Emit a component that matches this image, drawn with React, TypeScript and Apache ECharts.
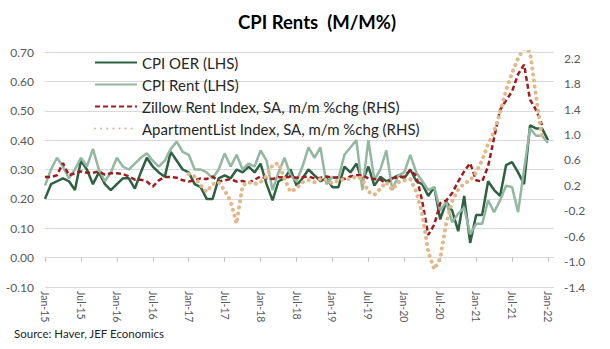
import React, { useEffect, useRef } from 'react';
import * as echarts from 'echarts';

// Month categories, Jan-15 .. Feb-22 (one slot past the last label, as in the reference axis)
const MONTHS = ['Jan', 'Feb', 'Mar', 'Apr', 'May', 'Jun', 'Jul', 'Aug', 'Sep', 'Oct', 'Nov', 'Dec'];
const YEARS = ['15', '16', '17', '18', '19', '20', '21'];
const categories: string[] = [];
YEARS.forEach((y) => MONTHS.forEach((m) => categories.push(`${m}-${y}`)));
categories.push('Jan-22', 'Feb-22');

// CPI OER m/m % (LHS)
const cpiOER = [
  0.20, 0.25, 0.26, 0.27, 0.26, 0.23, 0.33, 0.30, 0.25, 0.29, 0.25, 0.23,
  0.25, 0.27, 0.27, 0.235, 0.29, 0.34, 0.31, 0.29, 0.275, 0.36, 0.33, 0.30,
  0.29, 0.25, 0.24, 0.20, 0.20, 0.27, 0.28, 0.27, 0.30, 0.29, 0.31, 0.29,
  0.32, 0.25, 0.195, 0.26, 0.27, 0.30, 0.245, 0.27, 0.30, 0.28, 0.26, 0.27,
  0.24, 0.24, 0.31, 0.29, 0.32, 0.26, 0.31, 0.245, 0.275, 0.26, 0.27, 0.28,
  0.27, 0.30, 0.26, 0.25, 0.21, 0.24, 0.13, 0.19, 0.16, 0.09, 0.21, 0.05,
  0.145, 0.145, 0.26, 0.23, 0.21, 0.315, 0.325, 0.29, 0.25, 0.45, 0.44, 0.44,
  0.40,
];

// CPI Rent of primary residence m/m % (LHS)
const cpiRent = [
  0.245, 0.30, 0.34, 0.31, 0.27, 0.30, 0.34, 0.31, 0.37, 0.30, 0.26, 0.29,
  0.34, 0.31, 0.30, 0.32, 0.34, 0.355, 0.33, 0.31, 0.33, 0.37, 0.395, 0.36,
  0.35, 0.30, 0.30, 0.29, 0.27, 0.30, 0.355, 0.31, 0.35, 0.30, 0.32, 0.31,
  0.365, 0.33, 0.23, 0.29, 0.34, 0.28, 0.26, 0.31, 0.375, 0.34, 0.375, 0.25,
  0.275, 0.27, 0.35, 0.375, 0.40, 0.23, 0.40, 0.265, 0.30, 0.365, 0.23, 0.28,
  0.29, 0.35, 0.29, 0.26, 0.23, 0.24, 0.16, 0.19, 0.12, 0.15, 0.17, 0.08,
  0.115, 0.115, 0.195, 0.155, 0.195, 0.245, 0.24, 0.155, 0.30, 0.44, 0.415, 0.415,
  0.39,
];

// Zillow Rent Index, SA, m/m %chg (RHS)
const zillow = [
  0.33, 0.33, 0.36, 0.55, 0.36, 0.39, 0.42, 0.40, 0.40, 0.42, 0.37, 0.39,
  0.39, 0.38, 0.34, 0.29, 0.29, 0.26, 0.18, 0.28, 0.33, 0.33, 0.32, 0.28,
  0.26, 0.28, 0.31, 0.30, 0.34, 0.26, 0.28, 0.30, 0.26, 0.27, 0.24, 0.29,
  0.34, 0.31, 0.30, 0.33, 0.32, 0.34, 0.32, 0.33, 0.34, 0.31, 0.32, 0.34,
  0.32, 0.33, 0.30, 0.34, 0.36, 0.36, 0.31, 0.30, 0.29, 0.23, 0.31, 0.33,
  0.34, 0.44, 0.35, -0.05, -0.58, -0.42, -0.08, -0.04, 0.08, 0.26, 0.42, 0.55,
  0.28, 0.26, 0.50, 0.95, 1.39, 1.54, 1.68, 1.95, 2.10, 1.55, 1.39, 1.15,
];

// ApartmentList Index, SA, m/m %chg (RHS) — starts Jan-17
const apartmentList = [
  null, null, null, null, null, null, null, null, null, null, null, null,
  null, null, null, null, null, null, null, null, null, null, null, null,
  0.38, 0.34, 0.20, 0.10, 0.22, 0.25, 0.12, -0.05, -0.40, 0.20, 0.25, 0.22,
  0.25, 0.35, 0.52, 0.55, 0.30, 0.10, 0.15, 0.25, 0.28, 0.25, 0.30, 0.28,
  0.23, 0.28, 0.30, 0.30, 0.34, 0.30, 0.10, 0.05, 0.15, 0.25, 0.13, 0.25,
  0.28, 0.30, 0.10, -0.25, -0.85, -1.12, -0.95, -0.40, -0.05, 0.13, 0.23, 0.28,
  0.40, 0.60, 0.85, 1.05, 1.35, 1.70, 1.97, 2.20, 2.36, 2.30, 1.60, 0.95,
];

const rightLabels = [-1.4, -1.0, -0.6, -0.2, 0.2, 0.6, 1.0, 1.4, 1.8, 2.2];

const FONT = 'Lato, "Open Sans", sans-serif';
const LABEL_COLOR = '#595959';
const GRID_COLOR = '#d9d9d9';

export default function App() {
  const ref = useRef<HTMLDivElement>(null);

  useEffect(() => {
    if (!ref.current) return;
    const chart = echarts.init(ref.current, undefined, { renderer: 'svg' });
    chart.setOption({
      animation: false,
      backgroundColor: '#ffffff',
      textStyle: { fontFamily: FONT },
      title: {
        text: 'CPI Rents  (M/M%)',
        left: 233,
        top: 7,
        textStyle: { fontFamily: FONT, fontWeight: 'bold', fontSize: 18.5, color: '#000000' },
      },
      legend: {
        orient: 'vertical',
        left: 94,
        top: 55,
        padding: 0,
        itemWidth: 42,
        itemHeight: 14,
        itemGap: 7,
        itemStyle: { opacity: 0 },
        textStyle: { fontFamily: FONT, fontSize: 15, color: '#262626', lineHeight: 14 },
        data: [
          'CPI OER (LHS)',
          'CPI Rent (LHS)',
          'Zillow Rent Index, SA, m/m %chg (RHS)',
          'ApartmentList Index, SA, m/m %chg (RHS)',
        ],
      },
      grid: { left: 45, right: 56, top: 52, bottom: 62 },
      xAxis: [
        {
          type: 'category',
          data: categories,
          boundaryGap: false,
          axisLine: { show: true, onZero: true, lineStyle: { color: GRID_COLOR, width: 1 } },
          axisTick: { show: true, interval: 5, length: 4, lineStyle: { color: '#bfbfbf' } },
          axisLabel: { show: false },
          splitLine: { show: false },
        },
        {
          type: 'category',
          data: categories,
          boundaryGap: false,
          position: 'bottom',
          axisLine: { show: false, onZero: false },
          axisTick: { show: false },
          axisLabel: {
            interval: 5,
            rotate: -90,
            margin: 4,
            fontFamily: FONT,
            fontSize: 10.5,
            color: LABEL_COLOR,
          },
          splitLine: { show: false },
        },
      ],
      yAxis: [
        {
          type: 'value',
          min: -0.1,
          max: 0.7,
          interval: 0.1,
          axisLine: { show: false },
          axisTick: { show: false },
          axisLabel: {
            margin: 11,
            fontFamily: FONT,
            fontSize: 12,
            color: LABEL_COLOR,
            formatter: (v: number) => v.toFixed(2),
          },
          splitLine: { show: true, lineStyle: { color: GRID_COLOR, width: 1 } },
        },
        {
          type: 'value',
          position: 'right',
          min: -1.4,
          max: 2.3,
          axisLine: { show: false },
          axisTick: { show: false },
          axisLabel: {
            margin: 10,
            fontFamily: FONT,
            fontSize: 12,
            color: LABEL_COLOR,
            customValues: rightLabels,
            formatter: (v: number) => v.toFixed(1),
          },
          splitLine: { show: false },
        },
      ],
      series: [
        {
          name: 'CPI OER (LHS)',
          type: 'line',
          data: cpiOER,
          yAxisIndex: 0,
          symbol: 'none',
          lineStyle: { color: '#2e6141', width: 2.5 },
          itemStyle: { color: '#2e6141' },
        },
        {
          name: 'CPI Rent (LHS)',
          type: 'line',
          data: cpiRent,
          yAxisIndex: 0,
          symbol: 'none',
          lineStyle: { color: '#93b7a1', width: 2.5 },
          itemStyle: { color: '#93b7a1' },
        },
        {
          name: 'Zillow Rent Index, SA, m/m %chg (RHS)',
          type: 'line',
          data: zillow,
          yAxisIndex: 1,
          symbol: 'none',
          lineStyle: { color: '#9e1b20', width: 2.5, type: [5, 3] },
          itemStyle: { color: '#9e1b20' },
        },
        {
          name: 'ApartmentList Index, SA, m/m %chg (RHS)',
          type: 'line',
          data: apartmentList,
          yAxisIndex: 1,
          symbol: 'none',
          connectNulls: false,
          lineStyle: { color: '#e0b88a', width: 4, type: [0.1, 6], cap: 'round' },
          itemStyle: { color: '#e0b88a' },
        },
      ],
      graphic: [
        {
          type: 'text',
          left: 14,
          top: 327,
          style: {
            text: 'Source: Haver, JEF Economics',
            fontFamily: FONT,
            fontSize: 11.5,
            fill: '#262626',
          },
        },
      ],
    });
    return () => chart.dispose();
  }, []);

  return (
    <div
      ref={ref}
      style={{ position: 'fixed', left: 0, top: 0, width: 610, height: 349, background: '#fff' }}
    />
  );
}
